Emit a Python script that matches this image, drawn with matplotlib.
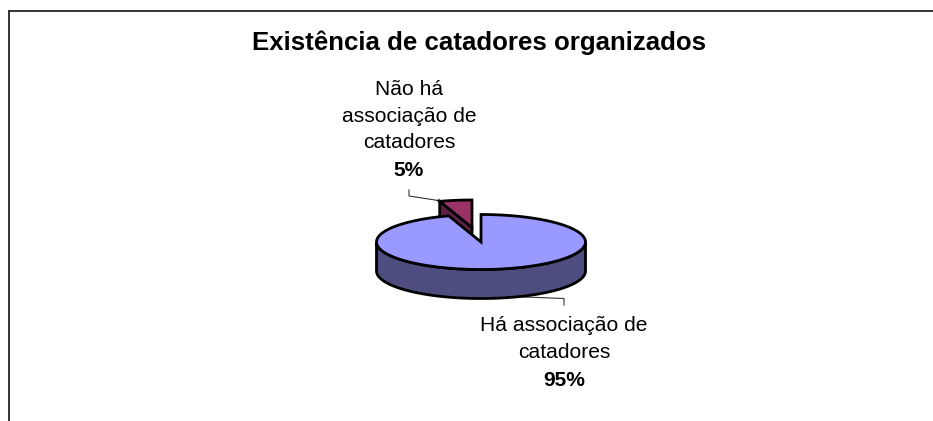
import numpy as np
import matplotlib
matplotlib.use("Agg")
import matplotlib.pyplot as plt

title = "Existência de catadores organizados"
categories = ["Não há associação de catadores", "Há associação de catadores"]
values = [5, 95]
percent_labels = ["5%", "95%"]

plt.rcParams['font.family'] = ['Liberation Sans', 'DejaVu Sans']

W, H = 933, 421
fig = plt.figure(figsize=(W / 100, H / 100), dpi=100)
ax = fig.add_axes([0, 0, 1, 1])
ax.set_xlim(0, W)
ax.set_ylim(H, 0)
ax.axis('off')

# pie projection
cx, cy, a, b, depth = 481.0, 242.0, 104.5, 27.5, 29.0
off_x, off_y = -9.0, -14.5
LW = 2.0
top_cols = {"red": "#993366", "blue": "#9999FF"}
side_cols = {"red": "#5E2046", "blue": "#4D4D80"}


def arc(t0, t1, ox=0.0, oy=0.0, n=200):
    t = np.radians(np.linspace(t0, t1, n))
    return cx + ox + a * np.cos(t), cy + oy - b * np.sin(t)


sweep = values[0] / sum(values) * 360
start = 90.0

# exploded small slice: cut face and top
ax_x, ax_y = cx + off_x, cy + off_y
ex, ey = arc(start, start + sweep, off_x, off_y)
ax.fill([ex[-1], ax_x, ax_x, ex[-1]],
        [ey[-1], ax_y, ax_y + depth, ey[-1] + depth],
        fc=side_cols["red"], ec='black', lw=LW, joinstyle='miter', zorder=2)
ax.fill(np.r_[ax_x, ex], np.r_[ax_y, ey],
        fc=top_cols["red"], ec='black', lw=LW, joinstyle='miter', zorder=3)

# large slice: side wall then top
sx, sy = arc(180, 360)
ax.fill(np.r_[sx, sx[::-1]], np.r_[sy, sy[::-1] + depth],
        fc=side_cols["blue"], ec='black', lw=LW, zorder=4)
bx, by = arc(start + sweep, start + 360)
ax.fill(np.r_[cx, bx], np.r_[cy, by],
        fc=top_cols["blue"], ec='black', lw=LW, joinstyle='miter', zorder=5)

# leader lines
ax.plot([409, 409, 441.5], [190, 196, 201], color='#333333', lw=0.8, zorder=1)
ax.plot([520, 564, 564], [296.8, 298.5, 305], color='#333333', lw=0.8, zorder=1)

# chart border (top and left only, as cropped)
ax.plot([9, 9], [H, 10.5], color='#333333', lw=1.4, solid_joinstyle='miter')
ax.plot([9, W], [10.5, 10.5], color='#333333', lw=1.4)

# text
ax.text(479, 50, title, fontsize=18.6, fontweight='bold', ha='center', va='baseline')
fs = 15.1
for txt, y, wt in [("Não há", 95, 'normal'), ("associação de", 122, 'normal'),
                   ("catadores", 148.5, 'normal'), (percent_labels[0], 176.5, 'bold')]:
    ax.text(409, y, txt, fontsize=fs, fontweight=wt, ha='center', va='baseline')
for txt, y, wt in [("Há associação de", 331, 'normal'), ("catadores", 358, 'normal'),
                   (percent_labels[1], 386, 'bold')]:
    ax.text(564, y, txt, fontsize=fs, fontweight=wt, ha='center', va='baseline')

fig.savefig("out.png", dpi=100)
